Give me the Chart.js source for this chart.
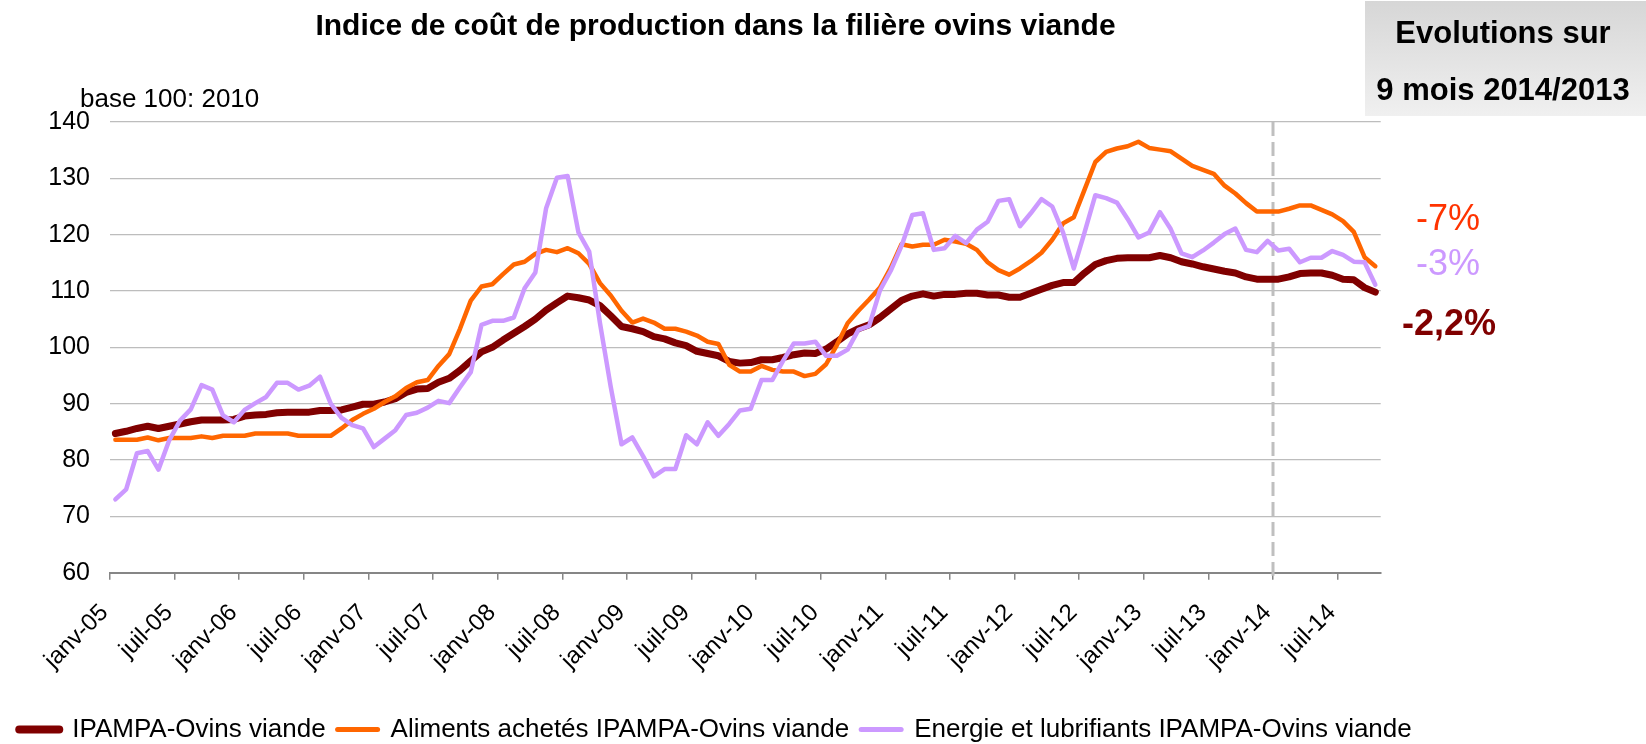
<!DOCTYPE html>
<html><head><meta charset="utf-8">
<script src="https://cdn.jsdelivr.net/npm/chart.js@4.4.1/dist/chart.umd.min.js"></script>
<style>html,body{margin:0;padding:0;background:#fff;}#wrap{width:1646px;height:744px;}</style>
</head><body><div id="wrap"><canvas id="c" width="1646" height="744"></canvas></div>
<script>
const FONT = "'Liberation Sans', Arial, sans-serif";

const monthNames = ['janv','févr','mars','avr','mai','juin','juil','août','sept','oct','nov','déc'];
const years = ['05','06','07','08','09','10','11','12','13','14'];
const categories = [];
years.forEach(y => monthNames.forEach(m => categories.push(m + '-' + y)));
categories.length = 118; // janv-05 .. oct-14

const seriesNames = ['IPAMPA-Ovins viande', 'Aliments achetés IPAMPA-Ovins viande', 'Energie et lubrifiants IPAMPA-Ovins viande'];

const ipampa = [
84.7,85.1,85.6,86.0,85.6,86.0,86.4,86.8,87.1,87.1,87.1,87.2,
87.8,88.0,88.1,88.4,88.5,88.5,88.5,88.8,88.8,88.9,89.4,89.9,
89.9,90.3,90.9,92.0,92.6,92.7,93.8,94.5,95.9,97.6,99.2,100.0,
101.3,102.5,103.7,105.0,106.6,107.9,109.1,108.8,108.4,107.4,105.6,103.7,
103.3,102.8,101.9,101.5,100.8,100.3,99.3,98.9,98.5,97.5,97.2,97.3,
97.8,97.8,98.2,98.7,99.0,98.9,99.7,101.0,102.4,103.3,104.0,105.3,
106.8,108.3,109.1,109.5,109.1,109.4,109.4,109.6,109.6,109.3,109.3,108.9,
108.9,109.6,110.3,111.0,111.5,111.5,113.2,114.7,115.4,115.8,115.9,115.9,
115.9,116.3,115.9,115.2,114.8,114.3,113.9,113.5,113.2,112.5,112.1,112.1,
112.1,112.5,113.1,113.2,113.2,112.8,112.1,112.0,110.6,109.8];

const aliments = [
83.6,83.6,83.6,84.0,83.5,83.9,83.9,83.9,84.2,83.9,84.3,84.3,
84.3,84.7,84.7,84.7,84.7,84.3,84.3,84.3,84.3,85.6,87.1,88.2,
89.1,90.3,91.3,92.8,93.8,94.2,96.7,98.8,103.3,108.3,110.8,111.2,
113.0,114.7,115.2,116.6,117.3,116.9,117.6,116.7,114.8,111.4,109.2,106.5,
104.4,105.1,104.4,103.3,103.3,102.8,102.1,101.0,100.6,96.9,95.7,95.7,
96.7,96.0,95.7,95.7,94.9,95.3,97.0,100.4,104.3,106.5,108.5,110.6,
114.1,118.3,117.9,118.2,118.2,119.1,118.8,118.4,117.3,115.1,113.7,112.9,
114.0,115.3,116.8,119.1,122.0,123.1,128.0,132.9,134.7,135.3,135.7,136.5,
135.4,135.1,134.8,133.5,132.2,131.5,130.8,128.7,127.3,125.6,124.1,124.1,
124.1,124.6,125.2,125.2,124.4,123.6,122.4,120.5,116.0,114.4];

const energie = [
73.0,74.8,81.2,81.6,78.3,83.5,87.0,89.0,93.3,92.5,87.9,86.7,
88.9,90.1,91.2,93.7,93.7,92.5,93.2,94.8,90.0,87.5,86.2,85.6,
82.3,83.8,85.3,88.0,88.4,89.3,90.5,90.1,92.9,95.6,104.0,104.7,
104.7,105.3,110.5,113.3,124.7,130.1,130.4,120.4,117.0,104.3,93.0,82.8,
84.0,80.7,77.1,78.4,78.4,84.4,82.8,86.7,84.3,86.4,88.8,89.1,
94.2,94.2,97.6,100.7,100.7,101.0,98.5,98.5,99.6,103.1,103.8,110.1,
113.6,118.0,123.5,123.8,117.3,117.6,119.8,118.5,120.9,122.3,126.0,126.3,
121.5,123.8,126.3,125.0,120.4,114.0,120.4,127.0,126.5,125.7,122.8,119.5,
120.4,124.0,121.0,116.7,116.0,117.2,118.6,120.1,121.1,117.3,116.9,118.9,
117.2,117.5,115.1,115.9,115.9,117.1,116.4,115.2,115.1,111.1];

const yTicks = {min: 60, max: 140, step: 10};
const titleText = 'Indice de coût de production dans la filière ovins viande';
const unitLabel = 'base 100: 2010';
const boxLines = ['Evolutions sur', '9 mois 2014/2013'];
const evolutions = ['-2,2%', '-7%', '-3%'];
const markerMonth = 'janv-14';

const colors = ['#800000', '#FF6600', '#CC99FF'];
const evoColors = ['#800000', '#FF3300', '#CC99FF'];
const widths = [7, 4.5, 4.5];
const legendWidths = [8, 5, 5];

const PAD_RIGHT = 215;
const PLOT_RIGHT = 1380.7;

const extras = {
  id: 'extras',
  beforeDatasetsDraw(chart) {
    const {ctx, chartArea, scales: {x}} = chart;
    const idx = categories.indexOf(markerMonth);
    const px = Math.round((x.getPixelForValue(idx - 1) + x.getPixelForValue(idx)) / 2);
    ctx.save();
    ctx.strokeStyle = '#bfbfbf';
    ctx.lineWidth = 3;
    ctx.setLineDash([14, 6]);
    ctx.beginPath();
    ctx.moveTo(px, chartArea.top);
    ctx.lineTo(px, chartArea.bottom + 3);
    ctx.stroke();
    ctx.restore();
  },
  afterDraw(chart) {
    const {ctx} = chart;
    ctx.save();
    const g = ctx.createLinearGradient(0, 0, 0, 116);
    g.addColorStop(0, '#d6d6d6');
    g.addColorStop(1, '#f0f0f0');
    ctx.fillStyle = g;
    ctx.fillRect(1365, 1, 281, 115);
    ctx.fillStyle = '#000';
    ctx.textAlign = 'center';
    ctx.textBaseline = 'alphabetic';
    ctx.font = 'bold 31px ' + FONT;
    ctx.fillText(boxLines[0], 1503, 43);
    ctx.fillText(boxLines[1], 1503, 100);
    ctx.textAlign = 'left';
    ctx.font = '26px ' + FONT;
    ctx.fillText(unitLabel, 80, 107);
    ctx.textAlign = 'center';
    ctx.font = '36px ' + FONT;
    ctx.fillStyle = evoColors[1];
    ctx.fillText(evolutions[1], 1448, 230);
    ctx.fillStyle = evoColors[2];
    ctx.fillText(evolutions[2], 1448, 275);
    ctx.font = 'bold 36px ' + FONT;
    ctx.fillStyle = evoColors[0];
    ctx.fillText(evolutions[0], 1449, 335);
    ctx.restore();
  }
};

Chart.defaults.font.family = FONT;
Chart.defaults.color = '#000';

const seriesData = [ipampa, aliments, energie];

new Chart(document.getElementById('c'), {
  type: 'line',
  data: {
    labels: categories,
    datasets: seriesData.map((d, i) => ({
      label: seriesNames[i],
      data: d,
      borderColor: colors[i],
      backgroundColor: colors[i],
      borderWidth: widths[i],
      pointRadius: 0,
      tension: 0,
      fill: false,
      borderJoinStyle: 'round',
      borderCapStyle: 'round',
      order: 3 - i
    }))
  },
  options: {
    responsive: false,
    animation: false,
    devicePixelRatio: 1,
    layout: {padding: {left: 0, right: PAD_RIGHT, top: 0, bottom: -8.5}},
    plugins: {
      tooltip: {enabled: false},
      title: {
        display: true,
        text: titleText,
        font: {size: 30, weight: 'bold', family: FONT},
        color: '#000',
        padding: {top: 9, bottom: 77}
      },
      legend: {
        position: 'bottom',
        align: 'center',
        labels: {
          usePointStyle: true,
          pointStyleWidth: 40,
          boxHeight: 8,
          padding: 12,
          color: '#000',
          font: {size: 26, family: FONT},
          generateLabels(chart) {
            return chart.data.datasets.map((ds, i) => ({
              text: ds.label,
              strokeStyle: ds.borderColor,
              fillStyle: ds.borderColor,
              lineWidth: legendWidths[i],
              lineCap: 'round',
              pointStyle: 'line',
              datasetIndex: i,
              hidden: false
            }));
          }
        }
      }
    },
    scales: {
      x: {
        type: 'category',
        offset: true,
        grid: {
          offset: true,
          drawOnChartArea: false,
          drawTicks: true,
          tickLength: 7,
          lineWidth: 1.5,
          color: (c) => (c.index % 6 === 0 ? '#868686' : 'rgba(0,0,0,0)')
        },
        border: {display: true, color: '#868686', width: 2},
        ticks: {
          autoSkip: false,
          maxRotation: 45,
          minRotation: 45,
          labelOffset: -11,
          padding: 19,
          font: {size: 24},
          color: '#000',
          callback: (v, i) => (i % 6 === 0 ? categories[i] : '')
        },
        afterFit(s) { s.height = 131.8; }
      },
      y: {
        min: yTicks.min,
        max: yTicks.max,
        grid: {color: '#bdbdbd', lineWidth: 1.2, drawTicks: false},
        border: {display: false},
        ticks: {stepSize: yTicks.step, padding: 20, font: {size: 25}, color: '#000'},
        afterFit(s) { s.width = 110; }
      },
      yR: {
        position: 'right',
        display: true,
        grid: {display: false, drawTicks: false},
        border: {display: false},
        ticks: {display: false},
        afterFit(s) { s.width = 1646 - PAD_RIGHT - PLOT_RIGHT; }
      }
    }
  },
  plugins: [extras]
});
</script>
</body></html>
